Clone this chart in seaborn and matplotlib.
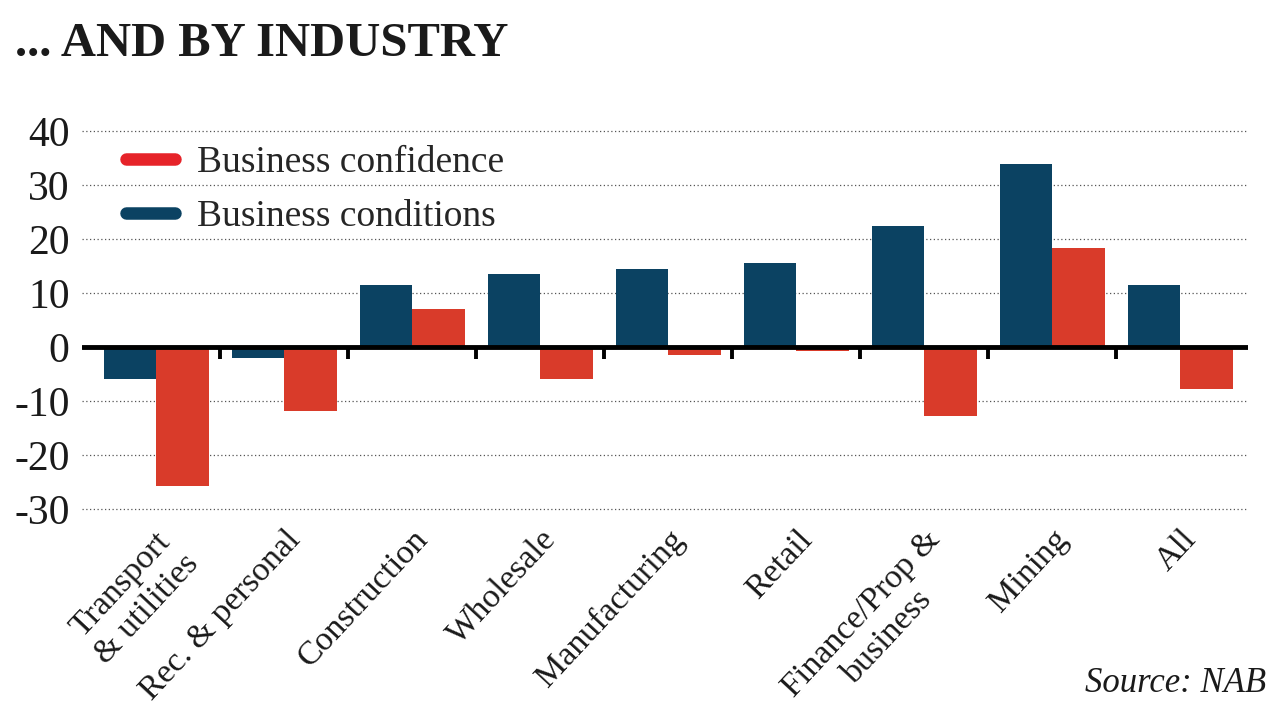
import matplotlib
matplotlib.use("Agg")
import matplotlib.pyplot as plt
import seaborn as sns
import pandas as pd
from matplotlib.lines import Line2D

categories = ["Transport\n& utilities", "Rec. & personal", "Construction", "Wholesale",
              "Manufacturing", "Retail", "Finance/Prop &\nbusiness", "Mining", "All"]
conditions = [-6, -2, 11.5, 13.5, 14.5, 15.5, 22.5, 33.8, 11.5]
confidence = [-25.8, -11.8, 7, -6, -1.5, -0.8, -12.8, 18.3, -7.7]
yticks = [-30, -20, -10, 0, 10, 20, 30, 40]

COND = "#0b4262"
CONF = "#d93b2a"
CONF_LEG = "#e62329"

sns.set_theme(style="white")
plt.rcParams["font.family"] = ["Liberation Serif", "DejaVu Serif"]

df = pd.DataFrame({
    "cat": categories * 2,
    "val": conditions + confidence,
    "series": ["Business conditions"] * len(categories) + ["Business confidence"] * len(categories),
})

fig = plt.figure(figsize=(12.8, 7.2), dpi=100)
ax = fig.add_axes([82 / 1280, 211 / 720, (1248 - 82) / 1280, 378 / 720])

sns.barplot(data=df, x="cat", y="val", hue="series", order=categories,
            hue_order=["Business conditions", "Business confidence"],
            palette=[COND, CONF], width=0.82, dodge=True, saturation=1,
            legend=False, ax=ax, zorder=2, linewidth=0)

ax.set_xlim(-0.58, len(categories) - 1 + 0.53)
ax.set_ylim(-30, 40)
ax.set_yticks(yticks)
ax.set_yticklabels([str(t) for t in yticks], fontsize=30, color="#1a1a1a")
ax.tick_params(axis="y", length=0, pad=9)
ax.grid(False)
for t in yticks:
    if t != 0:
        ax.axhline(t, color="#555555", lw=0.9, ls=(0, (1, 2)), zorder=1, clip_on=False)
ax.axhline(0, color="black", lw=3.5, zorder=3)
for i in range(len(categories) - 1):
    ax.plot([i + 0.5, i + 0.5], [0, -2.3], color="black", lw=2.8, zorder=3,
            solid_capstyle="butt")

ax.set_xticks(range(len(categories)))
ax.set_xticklabels(categories, rotation=47, ha="right", rotation_mode="anchor",
                   fontsize=24.5, color="#1a1a1a", multialignment="center")
ax.tick_params(axis="x", length=0, pad=11)
ax.set_xlabel("")
ax.set_ylabel("")
for s in ax.spines.values():
    s.set_visible(False)

handles = [Line2D([0], [0], color=CONF_LEG, lw=9, solid_capstyle="round"),
           Line2D([0], [0], color=COND, lw=9, solid_capstyle="round")]
ax.legend(handles, ["Business confidence", "Business conditions"], loc="upper left",
          bbox_to_anchor=(0.025, 1.0), frameon=False, fontsize=27,
          handlelength=1.3, handletextpad=0.6, labelspacing=0.5, borderaxespad=0)

fig.text(15 / 1280, 1 - 56 / 720, "... AND BY INDUSTRY", fontsize=35, fontweight="bold",
         color="#1a1a1a", ha="left", va="baseline")
fig.text(1266 / 1280, 1 - 692 / 720, "Source: NAB", fontsize=25, style="italic",
         color="#1a1a1a", ha="right", va="baseline")

fig.savefig("out.png", dpi=100, facecolor="white")
